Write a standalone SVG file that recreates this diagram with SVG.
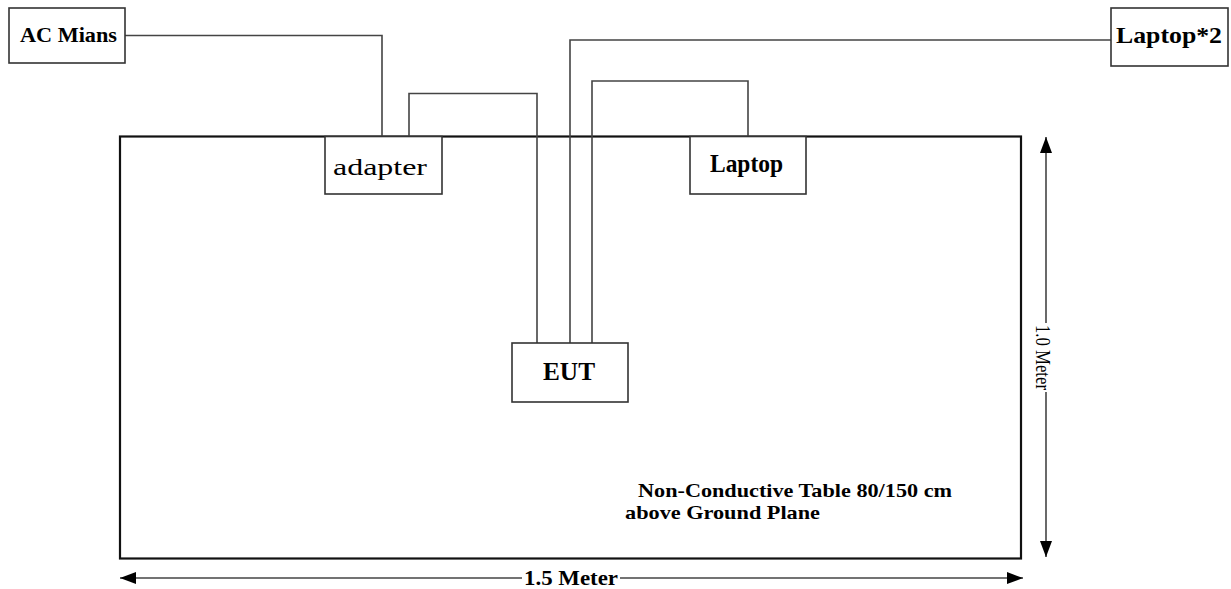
<svg xmlns="http://www.w3.org/2000/svg" width="1231" height="589" viewBox="0 0 1231 589">
<style>
.box{fill:#fff;stroke:#333;stroke-width:1.6}
.tbl{fill:none;stroke:#111;stroke-width:2.2}
.cab{fill:none;stroke:#444;stroke-width:1.6}
.dim{fill:none;stroke:#444;stroke-width:1.6}
.b{font-family:"Liberation Serif","Times New Roman",serif;font-weight:bold;fill:#000}
.r{font-family:"Liberation Serif","Times New Roman",serif;fill:#000}
</style>
<defs>
<marker id="ah" markerWidth="16" markerHeight="12" refX="16" refY="6" viewBox="0 0 16 12" orient="auto-start-reverse" markerUnits="userSpaceOnUse">
<polygon points="0,0 16,6 0,12" fill="#000"/>
</marker>
</defs>
<rect id="table" class="tbl" x="120" y="136.5" width="901" height="422"/>
<g id="connectors">
<polyline class="cab" points="125,35.5 382,35.5 382,136"/>
<polyline class="cab" points="409,136 409,93.5 537,93.5 537,343"/>
<polyline class="cab" points="1111,40 570,40 570,343"/>
<polyline class="cab" points="592,343 592,81 748,81 748,136"/>
</g>
<g id="node-acmains">
<rect class="box" x="9" y="8" width="116" height="55"/>
<text class="b" x="20" y="42" font-size="20" textLength="97" lengthAdjust="spacingAndGlyphs">AC Mians</text>
</g>
<g id="node-laptop2">
<rect class="box" x="1111" y="8" width="117" height="58"/>
<text class="b" x="1116" y="43" font-size="24" textLength="106" lengthAdjust="spacingAndGlyphs">Laptop*2</text>
</g>
<g id="node-adapter">
<rect class="box" x="325" y="136.5" width="117" height="57.5"/>
<text class="r" x="333" y="175" font-size="24" textLength="94" lengthAdjust="spacingAndGlyphs">adapter</text>
</g>
<g id="node-laptop">
<rect class="box" x="690" y="136.5" width="116" height="57.5"/>
<text class="b" x="710" y="172" font-size="25" textLength="73" lengthAdjust="spacingAndGlyphs">Laptop</text>
</g>
<g id="node-eut">
<rect class="box" x="512" y="343" width="116" height="59"/>
<text class="b" x="543" y="380" font-size="26" textLength="52" lengthAdjust="spacingAndGlyphs">EUT</text>
</g>
<g id="label-table">
<text class="b" x="638" y="497" font-size="19" textLength="314" lengthAdjust="spacingAndGlyphs">Non-Conductive Table 80/150 cm</text>
<text class="b" x="625" y="519" font-size="19" textLength="195" lengthAdjust="spacingAndGlyphs">above Ground Plane</text>
</g>
<g id="dimensions">
<line class="dim" x1="1046" y1="323" x2="1046" y2="137" marker-end="url(#ah)"/>
<line class="dim" x1="1046" y1="392" x2="1046" y2="557" marker-end="url(#ah)"/>
<text class="r" transform="translate(1036,325) rotate(90)" x="0" y="0" font-size="21" textLength="65" lengthAdjust="spacingAndGlyphs">1.0 Meter</text>
<line class="dim" x1="522" y1="578" x2="120" y2="578" marker-end="url(#ah)"/>
<line class="dim" x1="620" y1="578" x2="1023" y2="578" marker-end="url(#ah)"/>
<text class="b" x="524" y="585" font-size="21" textLength="94" lengthAdjust="spacingAndGlyphs">1.5 Meter</text>
</g>
</svg>
